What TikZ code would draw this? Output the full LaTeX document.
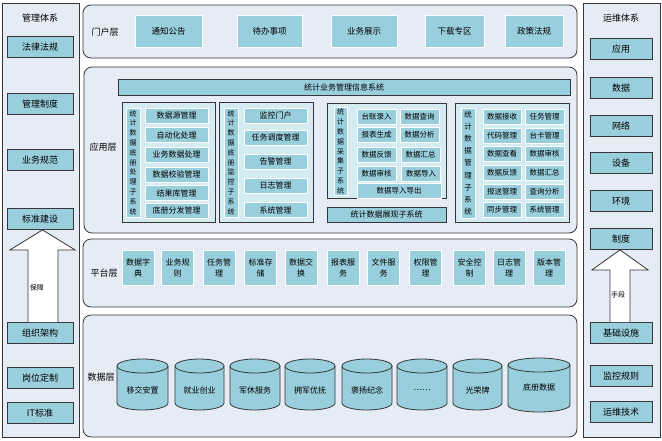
\documentclass[tikz,border=0pt]{standalone}
\usepackage{fontspec}
\newfontfamily\cjk{Noto Sans CJK SC}
\usetikzlibrary{calc}
\definecolor{layerbg}{RGB}{230,236,246}
\definecolor{itemfill}{RGB}{153,207,220}
\definecolor{subfill}{RGB}{212,236,241}
\definecolor{edge}{RGB}{55,55,55}
\begin{document}
\begin{tikzpicture}[x=1pt,y=-1pt,
  every node/.style={font=\cjk\fontsize{8}{9.6}\selectfont, inner sep=0pt},
  layer/.style={draw=edge, fill=layerbg, rounded corners=8pt, line width=0.8pt},
  sidecol/.style={draw=edge, fill=layerbg, line width=0.8pt},
  item/.style={fill=itemfill, draw=white, line width=0.9pt, align=center},
  pitem/.style={item, minimum width=67pt, minimum height=32pt, font=\cjk\fontsize{8.5}{10}\selectfont},
  aitem/.style={item, minimum width=63pt, minimum height=15pt},
  sitem/.style={item, minimum width=39pt, minimum height=15pt, font=\cjk\fontsize{7.5}{9}\selectfont},
  platitem/.style={item, minimum width=32pt, minimum height=35pt, font=\cjk\fontsize{8}{11}\selectfont},
  ditem/.style={fill=itemfill, draw=edge, line width=0.8pt, minimum height=21pt, font=\cjk\fontsize{9}{10}\selectfont},
  subbox/.style={fill=subfill, draw=edge, line width=0.8pt},
  bar/.style={fill=itemfill, draw=edge, line width=0.8pt},
  strip/.style={fill=itemfill, draw=white, line width=0.9pt, align=center, minimum width=14pt, font=\cjk\fontsize{7}{9.8}\selectfont},
  layerlabel/.style={font=\cjk\fontsize{9}{10}\selectfont},
  blockarrow/.style={draw=edge, fill=white, line width=0.8pt},
  arrowlabel/.style={font=\cjk\fontsize{7}{8}\selectfont},
  cylbody/.style={fill=itemfill},
  cylline/.style={draw=edge, line width=0.8pt},
  cyllabel/.style={font=\cjk\fontsize{8}{9.6}\selectfont}
]
\useasboundingbox (0,0) rectangle (662,440);
\fill[white] (0,0) rectangle (662,440);

% ---------- left column ----------
\draw[sidecol] (2,3) rectangle (79,437);
\node[layerlabel] (ltitle) at (40,18) {管理体系};
\node[ditem, minimum width=66pt] (l1) at (40,47) {法律法规};
\node[ditem, minimum width=66pt] (l2) at (40,104) {管理制度};
\node[ditem, minimum width=66pt] (l3) at (40,160) {业务规范};
\node[ditem, minimum width=66pt] (l4) at (40,219) {标准建设};
\node[ditem, minimum width=66pt] (l5) at (40,333) {组织架构};
\node[ditem, minimum width=66pt] (l6) at (40,378) {岗位定制};
\node[ditem, minimum width=66pt] (l7) at (40,413) {IT标准};
\path (l4.south) coordinate (ltip) (l5.north) coordinate (lbase);
\filldraw[blockarrow] ($(lbase)+(-12,0)$) -- ($(ltip)+(-12,20)$) -- ($(ltip)+(-30,20)$)
  -- ($(ltip)+(2.5,0)$) -- ($(ltip)+(35,20)$) -- ($(ltip)+(18,20)$) -- ($(lbase)+(18,0)$);
\node[arrowlabel] (lguard) at (37,288) {保障};

% ---------- right column ----------
\draw[sidecol] (583,3) rectangle (660,437);
\node[layerlabel] (rtitle) at (621,18) {运维体系};
\node[ditem, minimum width=62pt] (r1) at (621,49) {应用};
\node[ditem, minimum width=62pt] (r2) at (621,88) {数据};
\node[ditem, minimum width=62pt] (r3) at (621,126) {网络};
\node[ditem, minimum width=62pt] (r4) at (621,163) {设备};
\node[ditem, minimum width=62pt] (r5) at (621,201) {环境};
\node[ditem, minimum width=62pt] (r6) at (621,239) {制度};
\node[ditem, minimum width=62pt] (r7) at (621,333) {基础设施};
\node[ditem, minimum width=62pt] (r8) at (621,376) {监控规则};
\node[ditem, minimum width=62pt] (r9) at (621,412) {运维技术};
\path (r6.south) coordinate (rtip) (r7.north) coordinate (rbase);
\filldraw[blockarrow] ($(rbase)+(-11,0)$) -- ($(rtip)+(-11,20)$) -- ($(rtip)+(-29,20)$)
  -- ($(rtip)+(-1,0)$) -- ($(rtip)+(27,20)$) -- ($(rtip)+(9,20)$) -- ($(rbase)+(9,0)$);
\node[arrowlabel] (rmeans) at (618,295) {手段};

% ---------- portal layer ----------
\draw[layer] (83,5) rectangle (577,58);
\node[layerlabel] (portal) at (105,32) {门户层};
\node[pitem, minimum width=67pt] (p1) at (168.5,31) {通知公告};
\node[pitem, minimum width=65pt] (p2) at (269.5,31) {待办事项};
\node[pitem, minimum width=66pt] (p3) at (364,31) {业务展示};
\node[pitem, minimum width=59pt] (p4) at (454.5,31) {下载专区};
\node[pitem, minimum width=58pt] (p5) at (534,31) {政策法规};

% ---------- application layer ----------
\draw[layer] (84,67) rectangle (577,233);
\node[layerlabel] (app) at (103,147) {应用层};
\node[bar, minimum width=452pt, minimum height=16pt] (topbar) at (344,87) {统计业务管理信息系统};

% box 1
\draw[subbox] (122,102) rectangle (215,222);
\node[strip, minimum height=109pt] (s1) at (133,162.5) {统\\计\\数\\据\\底\\册\\处\\理\\子\\系\\统};
\node[aitem] (a11) at (176.5,115.5) {数据源管理};
\node[aitem] (a12) at (176.5,135) {自动化处理};
\node[aitem] (a13) at (176.5,154.5) {业务数据处理};
\node[aitem] (a14) at (176.5,174.5) {数据校验管理};
\node[aitem] (a15) at (176.5,193) {结果库管理};
\node[aitem] (a16) at (176.5,210.5) {底册分发管理};

% box 2
\draw[subbox] (219,102) rectangle (313,222);
\node[strip, minimum height=109pt] (s2) at (231,162.5) {统\\计\\数\\据\\底\\册\\监\\控\\子\\系\\统};
\node[aitem] (a21) at (275.5,115.5) {监控门户};
\node[aitem] (a22) at (275.5,137.5) {任务调度管理};
\node[aitem] (a23) at (275.5,161.5) {告警管理};
\node[aitem] (a24) at (275.5,185.5) {日志管理};
\node[aitem] (a25) at (275.5,210) {系统管理};

% box 3
\draw[subbox] (327,103) rectangle (446,198);
\node[strip, minimum width=13pt, minimum height=88pt] (s3) at (340.5,151.5) {统\\计\\数\\据\\采\\集\\子\\系\\统};
\node[sitem] (a31) at (376.5,116.5) {台账录入};
\node[sitem] (a32) at (419.5,116.5) {数据查询};
\node[sitem] (a33) at (376.5,135) {报表生成};
\node[sitem] (a34) at (419.5,135) {数据分析};
\node[sitem] (a35) at (376.5,154.5) {数据反馈};
\node[sitem] (a36) at (420.5,154.5) {数据汇总};
\node[sitem] (a37) at (376.5,173.5) {数据审核};
\node[sitem] (a38) at (421,173.5) {数据导入};
\node[sitem, minimum width=84pt] (a39) at (399,191) {数据导入导出};
\node[bar, minimum width=119pt, minimum height=15pt] (showbar) at (386.5,214.5) {统计数据展现子系统};

% box 4
\draw[subbox] (455,103) rectangle (569,222);
\node[strip, minimum height=110pt, font=\cjk\fontsize{7.5}{12.2}\selectfont] (s4) at (468,163) {统\\计\\数\\据\\管\\理\\子\\系\\统};
\node[sitem, minimum width=38pt] (a41) at (502,116.5) {数据接收};
\node[sitem] (a42) at (544.5,116.5) {任务管理};
\node[sitem, minimum width=38pt] (a43) at (502,135.5) {代码管理};
\node[sitem] (a44) at (544.5,135.5) {台卡管理};
\node[sitem, minimum width=38pt] (a45) at (502,154) {数据查看};
\node[sitem] (a46) at (544.5,154) {数据审核};
\node[sitem, minimum width=38pt] (a47) at (502,173) {数据反馈};
\node[sitem] (a48) at (544.5,173) {数据汇总};
\node[sitem, minimum width=38pt] (a49) at (502,192) {报送管理};
\node[sitem] (a410) at (544.5,192) {查询分析};
\node[sitem, minimum width=38pt] (a411) at (502,210) {同步管理};
\node[sitem] (a412) at (544.5,210) {系统管理};

% ---------- platform layer ----------
\draw[layer] (83,239) rectangle (577,307);
\node[layerlabel] (plat) at (104,273) {平台层};
\node[platitem] (q1) at (138,267.5) {数据字\\典};
\node[platitem] (q2) at (177.5,267.5) {业务规\\则};
\node[platitem] (q3) at (219,267.5) {任务管\\理};
\node[platitem] (q4) at (260.5,267.5) {标准存\\储};
\node[platitem] (q5) at (301,267.5) {数据交\\换};
\node[platitem] (q6) at (343,267.5) {报表服\\务};
\node[platitem] (q7) at (383.5,267.5) {文件服\\务};
\node[platitem] (q8) at (425.5,267.5) {权限管\\理};
\node[platitem] (q9) at (469.5,267.5) {安全控\\制};
\node[platitem] (q10) at (509,267.5) {日志管\\理};
\node[platitem] (q11) at (549,267.5) {版本管\\理};

% ---------- data layer ----------
\draw[layer] (83,315) rectangle (577,437);
\node[layerlabel] (datal) at (101,377) {数据层};
\foreach \cx/\rx/\yt/\yb/\ly/\lab/\nm in {
  142.5/25.5/366/403/390/移交安置/d1,
  199.5/24.5/366/403/390/就业创业/d2,
  255/25/366/403/390/军休服务/d3,
  310/25/366/403/390/拥军优抚/d4,
  367/25/366/403/390/褒扬纪念/d5,
  422/25/366/403/390/……/d6,
  477.5/24.5/366/403/390/光荣牌/d7,
  539/31/365/405/387/底册数据/d8}{
  \fill[cylbody] (\cx-\rx,\yt) -- (\cx-\rx,\yb) arc[start angle=180,end angle=360,x radius=\rx pt,y radius=7pt] -- (\cx+\rx,\yt) -- cycle;
  \draw[cylline] (\cx-\rx,\yt) -- (\cx-\rx,\yb) arc[start angle=180,end angle=360,x radius=\rx pt,y radius=7pt] -- (\cx+\rx,\yt);
  \filldraw[cylbody, cylline] (\cx,\yt) ellipse[x radius=\rx pt, y radius=7pt];
  \node[cyllabel] (\nm) at (\cx,\ly) {\lab};
}
\end{tikzpicture}
\end{document}
